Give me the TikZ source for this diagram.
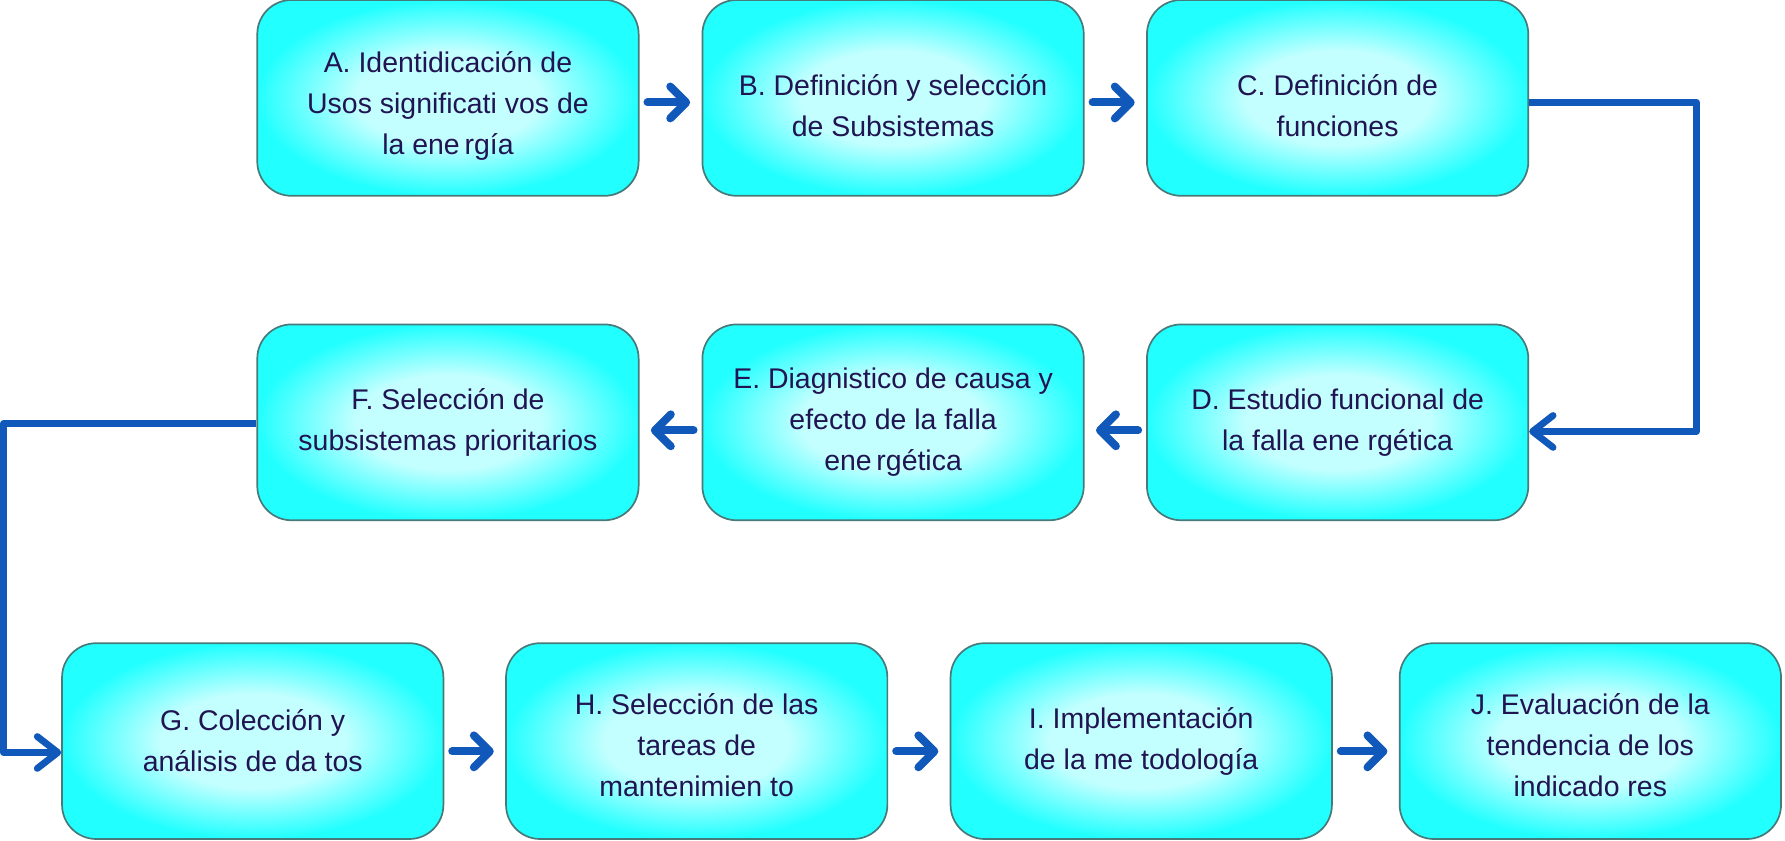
\documentclass[tikz,border=0pt]{standalone}
\usepackage{fontspec}
\setmainfont{Liberation Sans}
\usetikzlibrary{arrows.meta}

\definecolor{cyanfill}{RGB}{34,255,255}
\definecolor{lightcy}{RGB}{196,255,255}
\definecolor{edgegray}{RGB}{72,122,122}
\definecolor{inkblue}{RGB}{32,20,82}
\definecolor{flowblue}{RGB}{16,88,186}
\pgfdeclareradialshading{boxshade}{\pgfpoint{0bp}{0bp}}{color(0bp)=(lightcy); color(12bp)=(lightcy); color(25bp)=(cyanfill); color(50bp)=(cyanfill)}
\newcommand{\dropline}[1]{\rule{0pt}{#1}}

\begin{document}
\begin{tikzpicture}
  [x=1pt,y=1pt,
   stepbox/.style={rectangle,rounded corners=30pt,draw=edgegray,line width=1.5pt,
     shading=boxshade,minimum width=335pt,minimum height=172pt,inner sep=0pt,
     align=center,text=inkblue,font=\fontsize{25}{36}\selectfont},
   flow/.style={draw=flowblue,line width=7pt,line cap=round,shorten <=7pt,shorten >=10pt,
     -{Straight Barb[length=14pt,width=28pt,line cap=round,line join=round]}},
   link/.style={draw=flowblue,line width=6pt,line join=round,
     -{Straight Barb[length=18pt,width=28pt,line cap=round,line join=round]}}]
  \useasboundingbox (0,0) rectangle (1568,-738);
  % first row
  \node[stepbox] (a) at (393.5,-86) {\dropline{32pt}A. Identidicación de\\Usos significati vos de\\la ene\,rgía};
  \node[stepbox] (b) at (784.5,-86) {\dropline{32pt}B. Definición y selección\\de Subsistemas};
  \node[stepbox] (c) at (1175,-86)  {\dropline{32pt}C. Definición de\\funciones};
  % second row
  \node[stepbox] (d) at (1175,-371)  {D. Estudio funcional de\\la falla ene rgética};
  \node[stepbox] (e) at (784.5,-371) {E. Diagnistico de causa y\\efecto de la falla\\ene\,rgética};
  \node[stepbox] (f) at (393.5,-371) {F. Selección de\\subsistemas prioritarios};
  % third row
  \node[stepbox] (g) at (222,-651)    {G. Colección y\\análisis de da tos};
  \node[stepbox] (h) at (612,-651)    {\dropline{26pt}H. Selección de las\\tareas de\\mantenimien to};
  \node[stepbox] (i) at (1002.5,-651) {I. Implementación\\de la me todología};
  \node[stepbox] (j) at (1397,-651)   {\dropline{26pt}J. Evaluación de la\\tendencia de los\\indicado res};
  \foreach \from/\to in {a/b,b/c}
    \draw[flow] ([yshift=-4pt]\from.east) -- ([yshift=-4pt]\to.west);
  \foreach \from/\to in {d/e,e/f}
    \draw[flow] ([yshift=-7pt]\from.west) -- ([yshift=-7pt]\to.east);
  \foreach \from/\to in {g/h,h/i,i/j}
    \draw[flow] ([yshift=-9pt]\from.east) -- ([yshift=-9pt]\to.west);
  % long connectors between rows
  \draw[link] ([yshift=-4pt]c.east) -- ++(147,0) |- ([yshift=-8pt]d.east);
  \draw[link] ([yshift=-1pt]f.west) -- ++(-222,0) |- ([yshift=-10pt]g.west);
\end{tikzpicture}
\end{document}
